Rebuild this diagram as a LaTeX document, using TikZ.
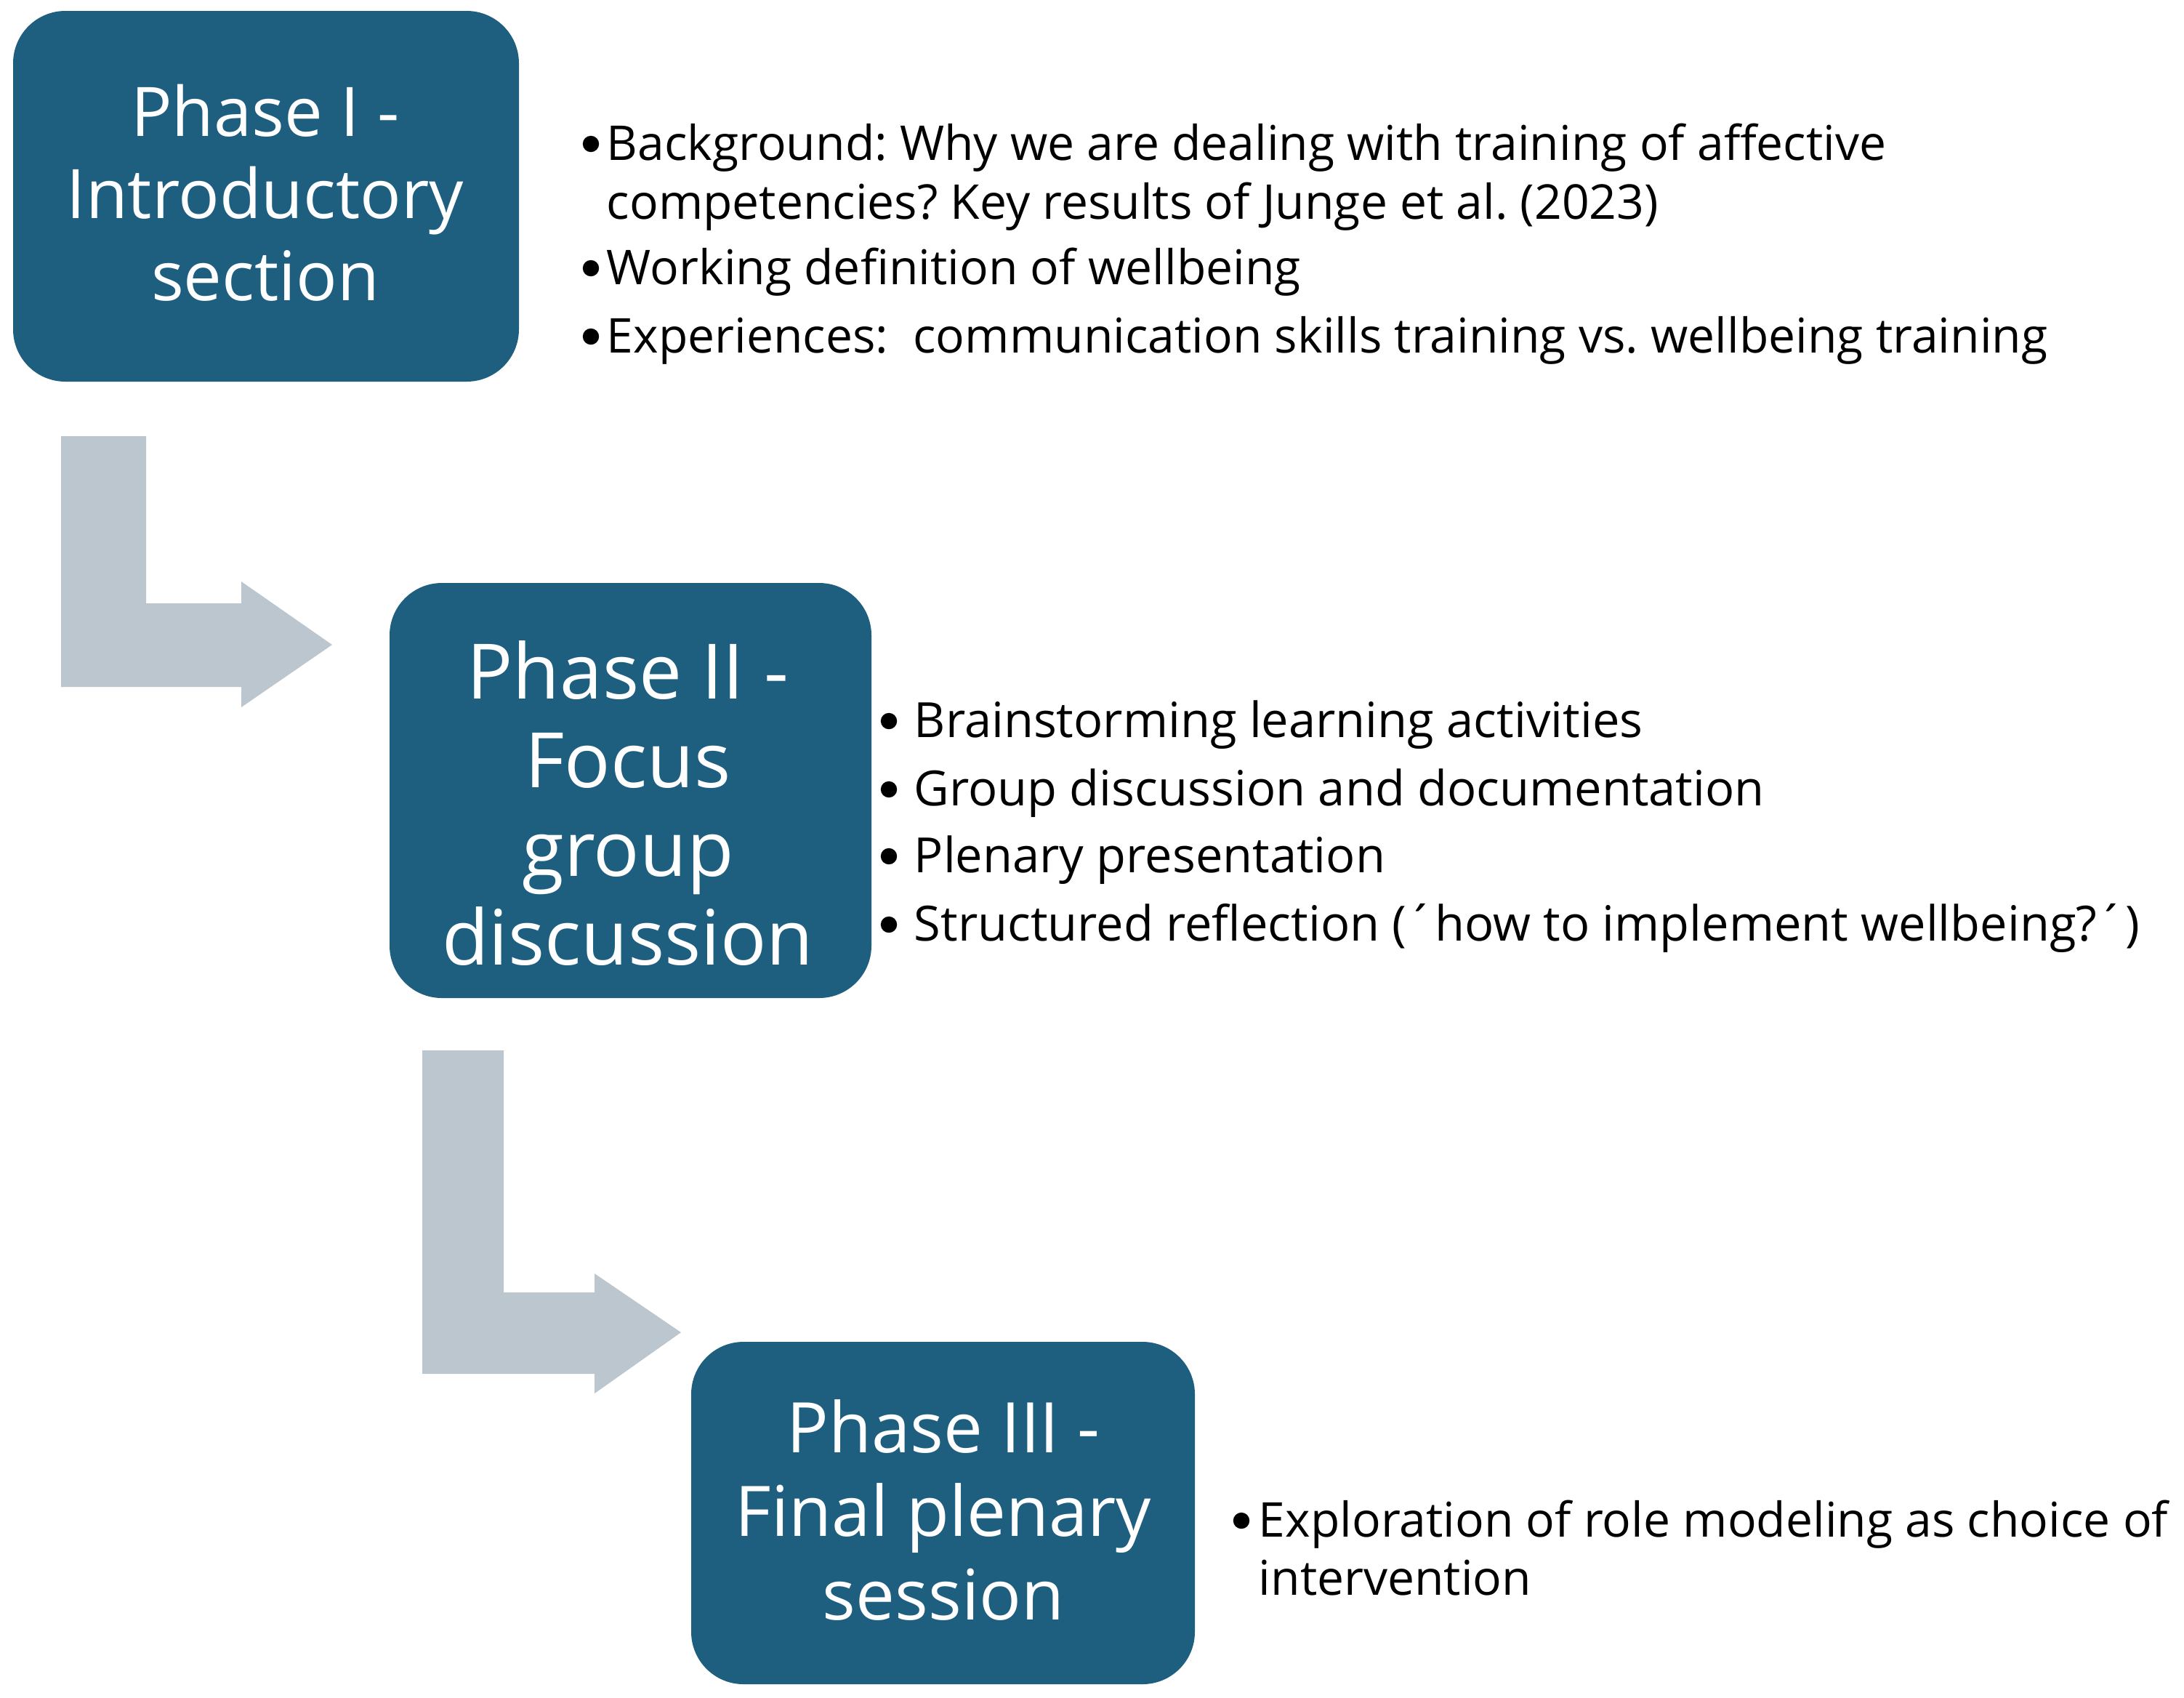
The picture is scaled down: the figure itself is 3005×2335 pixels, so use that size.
\documentclass[tikz,border=0pt]{standalone}
\usepackage{fontspec}
\setmainfont{Open Sans}
\frenchspacing
\definecolor{boxblue}{HTML}{1E5F80}
\definecolor{arrowgrey}{HTML}{BCC6CF}
\begin{document}
\begin{tikzpicture}[x=0.25pt,y=-0.25pt,
  phasebox/.style={fill=boxblue, rounded corners=18pt, inner sep=0pt},
  phasetext/.style={text=white, align=center, inner sep=0pt},
  btA/.style={anchor=west, inner sep=0pt, text height=11.8pt, text depth=0pt, font=\fontsize{16.5}{19}\selectfont},
  btB/.style={anchor=west, inner sep=0pt, text height=11.9pt, text depth=0pt, font=\fontsize{16.7}{20}\selectfont},
  bul/.style={circle, fill=black, inner sep=0pt, minimum size=5.6pt},
  bendarrow/.style={fill=arrowgrey}
]
\useasboundingbox (0,0) rectangle (3005,2335);

% Phase boxes
\node[phasebox, minimum width=174pt, minimum height=127.5pt] (p1) at (366,270) {};
\node[phasebox, minimum width=165.75pt, minimum height=142.75pt] (p2) at (867.5,1087.5) {};
\node[phasebox, minimum width=173.25pt, minimum height=117.75pt] (p3) at (1297.5,2081.5) {};

\node[phasetext, font=\fontsize{23.5}{28.25}\selectfont] (p1t) at (365,265) {Phase I -\\Introductory\\section};
\node[phasetext, font=\fontsize{26.3}{30.5}\selectfont] (p2t) at (864,1105) {Phase II -\\Focus\\group\\discussion};
\node[phasetext, font=\fontsize{24}{28.75}\selectfont] (p3t) at (1298,2077) {Phase III -\\Final plenary\\session};

% Bent arrows
\fill[bendarrow] (84,600) -- (201,600) -- (201,830) -- (332,830) -- (332,800) -- (457,887) -- (332,973) -- (332,945) -- (84,945) -- cycle;
\fill[bendarrow] (581,1445) -- (693,1445) -- (693,1778) -- (818,1778) -- (818,1752) -- (937,1833) -- (818,1917) -- (818,1890) -- (581,1890) -- cycle;

% Phase I items
\node[bul] (b1a) at (813,198) {};
\node[btA] (t1a) at (834,197) {Background: Why we are dealing with training of affective};
\node[btA] (t1b) at (834,278) {competencies? Key results of Junge et al. (2023)};
\node[bul] (b1c) at (813,369) {};
\node[btA] (t1c) at (834,368) {Working definition of wellbeing};
\node[bul] (b1d) at (813,463) {};
\node[btA] (t1d) at (834,462) {Experiences:\ \ communication skills training vs. wellbeing training};

% Phase II items
\node[bul] (b2a) at (1223,992) {};
\node[btB] (t2a) at (1257,991) {Brainstorming learning activities};
\node[bul] (b2b) at (1223,1086) {};
\node[btB] (t2b) at (1257,1085) {Group discussion and documentation};
\node[bul] (b2c) at (1223,1178) {};
\node[btB] (t2c) at (1257,1177) {Plenary presentation};
\node[bul] (b2d) at (1223,1272) {};
\node[btB] (t2d) at (1257,1271) {Structured reflection (´how to implement wellbeing?´)};

% Phase III items
\node[bul] (b3a) at (1708,2092) {};
\node[btA] (t3a) at (1731,2091) {Exploration of role modeling as choice of};
\node[btA] (t3b) at (1731,2171) {intervention};
\end{tikzpicture}
\end{document}
